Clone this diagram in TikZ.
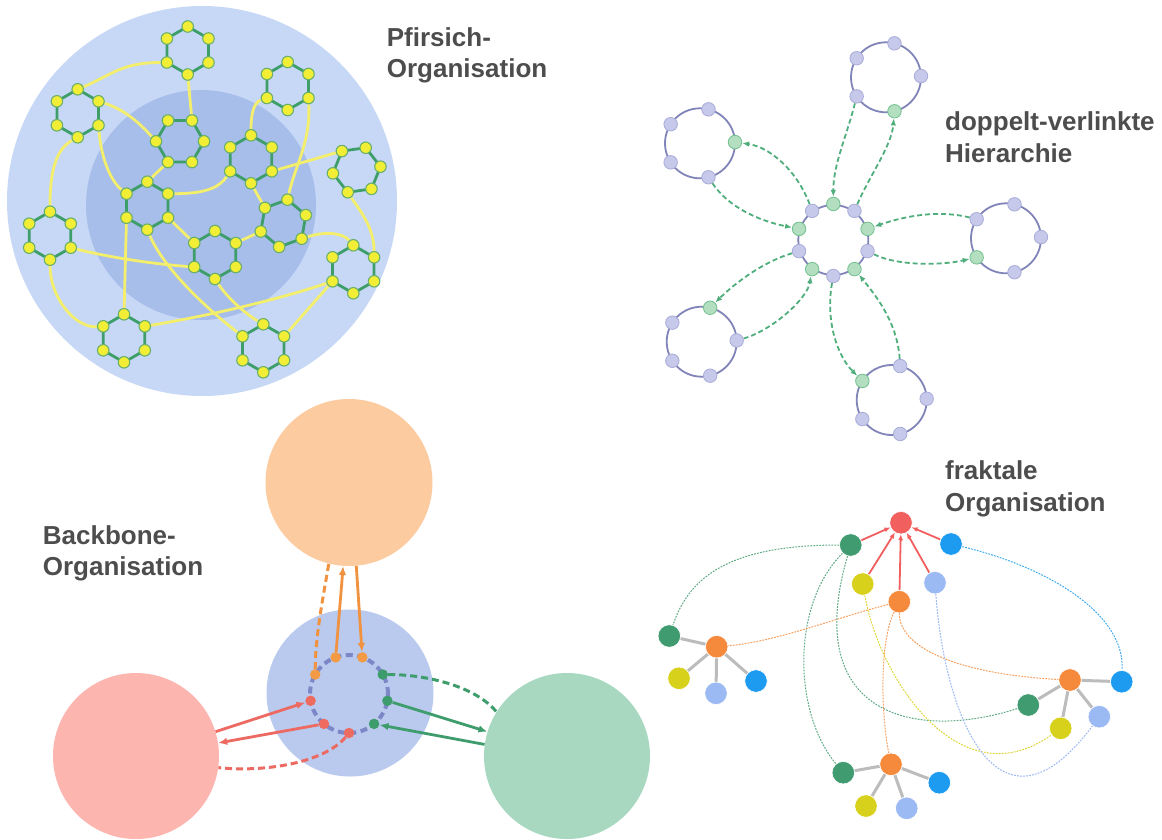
\documentclass[tikz,border=0pt]{standalone}
\usepackage{fontspec}
\setmainfont{Liberation Sans}
\usetikzlibrary{arrows.meta,calc}
\pgfdeclarelayer{bg}\pgfdeclarelayer{lines}\pgfsetlayers{bg,lines,main}
\definecolor{pfOuter}{HTML}{C7D8F6}
\definecolor{pfInner}{HTML}{A7BDEA}
\definecolor{hexG}{HTML}{3D9E6A}
\definecolor{dotY}{HTML}{F2EE35}
\definecolor{dotYB}{HTML}{6AB06A}
\definecolor{ylLine}{HTML}{F3EF6C}
\definecolor{ringc}{HTML}{8184B8}
\definecolor{pdotF}{HTML}{C6C9EA}
\definecolor{pdotD}{HTML}{A9ACD8}
\definecolor{gdotF}{HTML}{B3DFC0}
\definecolor{gdotD}{HTML}{72C08E}
\definecolor{harrc}{HTML}{4FAE7B}
\definecolor{bbOrange}{HTML}{FDCBA0}
\definecolor{bbBlue}{HTML}{B9CAEE}
\definecolor{bbPink}{HTML}{FDB5B0}
\definecolor{bbGreen}{HTML}{A9D8C1}
\definecolor{aO}{HTML}{F0923F}
\definecolor{aR}{HTML}{EC6A62}
\definecolor{aG}{HTML}{3F9D6D}
\definecolor{ringbb}{HTML}{7C87C7}
\definecolor{dotO}{HTML}{F39A45}
\definecolor{dotR}{HTML}{EE6B60}
\definecolor{dotG}{HTML}{3C9C6B}
\definecolor{fRed}{HTML}{F25F5F}
\definecolor{fGreen}{HTML}{419B70}
\definecolor{fBlue}{HTML}{1C9BF0}
\definecolor{fYel}{HTML}{D8D11B}
\definecolor{fLb}{HTML}{9BB9F3}
\definecolor{fOr}{HTML}{F68A3C}
\definecolor{fGray}{HTML}{BCBCBC}
\definecolor{txt}{HTML}{4D4D4D}
\newcommand{\hexa}[4]{%
  \foreach \k in {0,...,5}{%
    \pgfmathsetmacro{\ang}{90+#4-60*\k}%
    \node[ydot] (#1-\k) at ({#2+24*cos(\ang)},{#3-24*sin(\ang)}) {};%
  }%
  \begin{pgfonlayer}{lines}%
    \draw[hexedge] (#1-0.center)--(#1-1.center)--(#1-2.center)--(#1-3.center)--(#1-4.center)--(#1-5.center)--cycle;%
  \end{pgfonlayer}%
}
\newcommand{\hring}[4]{%
  \node[hringst] (#1) at (#2,#3) {};%
  \foreach \a [count=\i from 0] in {147,76,2,-76,-147}{%
    \ifnum\i=#4\relax
      \node[gdot] (#1-\i) at ({#2+35*cos(\a)},{#3-35*sin(\a)}) {};%
    \else
      \node[pdot] (#1-\i) at ({#2+35*cos(\a)},{#3-35*sin(\a)}) {};%
    \fi
  }%
}
\begin{document}
\begin{tikzpicture}[x=1pt,y=-1pt,
  lbl/.style={anchor=base west, inner sep=0pt, text=txt, font=\bfseries\fontsize{26}{31}\selectfont},
  disc/.style={circle, inner sep=0pt, draw=none},
  ydot/.style={circle, inner sep=0pt, minimum size=11.5pt, fill=dotY, draw=dotYB, line width=1.1pt},
  hexedge/.style={draw=hexG, line width=2.8pt, line join=round},
  yl/.style={draw=ylLine, line width=2.8pt},
  hringst/.style={circle, inner sep=0pt, minimum size=70pt, draw=ringc, line width=1.8pt},
  pdot/.style={circle, inner sep=0pt, minimum size=13.5pt, fill=pdotF, draw=pdotD, line width=0.8pt},
  gdot/.style={circle, inner sep=0pt, minimum size=13.5pt, fill=gdotF, draw=gdotD, line width=0.8pt},
  harr/.style={draw=harrc, line width=1.8pt, dash pattern=on 5pt off 3pt, -{Latex[length=7pt,width=5.5pt]}},
  bdot/.style={circle, inner sep=0pt, minimum size=10.5pt, draw=none},
  barr/.style={line width=2.8pt, -{Latex[length=9pt,width=7.5pt]}},
  bdash/.style={line width=3pt, dash pattern=on 7pt off 4pt},
  fnode/.style={circle, inner sep=0pt, minimum size=22.5pt, draw=white, line width=0.6pt},
  fedge/.style={draw=fGray, line width=3pt},
  fdash/.style={line width=1pt, dash pattern=on 1.8pt off 1.2pt},
  farr/.style={draw=fRed, line width=1.8pt, -{Latex[length=6pt,width=5pt]}}
]
\useasboundingbox (0,0) rectangle (1162,839);
\begin{pgfonlayer}{bg}
  \fill[white] (0,0) rectangle (1162,839);
  % Pfirsich circles
  \node[disc, fill=pfOuter, minimum size=390pt] (pfo) at (202,201) {};
  \node[disc, fill=pfInner, minimum size=230pt] (pfi) at (201,205) {};
  % Backbone circles
  \node[disc, fill=bbOrange, minimum size=167pt] (bbo) at (349,482.5) {};
  \node[disc, fill=bbBlue, minimum size=167pt] (bbb) at (350,693) {};
  \node[disc, fill=bbPink, minimum size=166pt] (bpk) at (136,756) {};
  \node[disc, fill=bbGreen, minimum size=166pt] (bgc) at (567,756) {};
\end{pgfonlayer}

% ---------------- Pfirsich-Organisation ----------------
\hexa{H1}{187.7}{50.5}{0}
\hexa{H2}{77.7}{113.3}{0}
\hexa{H3}{287.7}{86}{0}
\hexa{H4}{180}{141.3}{30}
\hexa{H5}{251}{159.3}{0}
\hexa{H6}{356.7}{170}{-22}
\hexa{H7}{147.3}{205.7}{0}
\hexa{H8}{50}{235.7}{0}
\hexa{H9}{283.3}{223.3}{-10}
\hexa{H10}{215}{255}{0}
\hexa{H11}{353.3}{269.3}{0}
\hexa{H12}{124}{338.3}{0}
\hexa{H13}{263.3}{348.3}{0}
\begin{pgfonlayer}{lines}
  \draw[yl] (H1-4) .. controls +(-45,0) and +(35,-15) .. (H2-0);
  \draw[yl] (H1-3) -- (H4-1);
  \draw[yl] (H2-1) .. controls +(25,8) and +(-18,-20) .. (H4-5);
  \draw[yl] (H2-2) .. controls +(3,35) and +(-15,-12) .. (H7-5);
  \draw[yl] (H2-3) .. controls +(-22,12) and +(0,-40) .. (H8-0);
  \draw[yl] (H4-4) -- (H7-0);
  \draw[yl] (H3-4) .. controls +(-15,5) and +(0,-15) .. (H5-0);
  \draw[yl] (H3-2) .. controls +(2,45) and +(8,-35) .. (H9-0);
  \draw[yl] (H5-2) -- (H6-5);
  \draw[yl] (H5-4) .. controls +(-10,15) and +(40,0) .. (H7-1);
  \draw[yl] (H5-3) -- (H9-5);
  \draw[yl] (H9-4) -- (H10-1);
  \draw[yl] (H9-2) .. controls +(25,-8) and +(-10,-12) .. (H11-0);
  \draw[yl] (H6-3) .. controls +(12,18) and +(0,-30) .. (H11-1);
  \draw[yl] (H7-2) -- (H10-5);
  \draw[yl] (H7-4) -- (H12-0);
  \draw[yl] (H7-3) .. controls +(15,35) and +(-45,-35) .. (H13-5);
  \draw[yl] (H8-2) .. controls +(40,10) and +(-40,-3) .. (H10-4);
  \draw[yl] (H8-3) .. controls +(0,38) and +(-28,2) .. (H12-5);
  \draw[yl] (H10-3) .. controls +(12,18) and +(-20,-12) .. (H13-0);
  \draw[yl] (H11-4) .. controls +(-60,20) and +(60,-10) .. (H12-1);
  \draw[yl] (H11-4) -- (H13-1);
\end{pgfonlayer}
\node[lbl] (pfA) at (386.7,46) {Pfirsich-};
\node[lbl] (pfB) at (386.7,77) {Organisation};

% ---------------- doppelt-verlinkte Hierarchie ----------------
\node[hringst] (hc) at (833.3,240) {};
\foreach \k in {0,...,9}{%
  \pgfmathsetmacro{\ang}{90-36*\k}%
  \ifodd\k
    \node[pdot] (hc-\k) at ({833.3+36*cos(\ang)},{240-36*sin(\ang)}) {};%
  \else
    \node[gdot] (hc-\k) at ({833.3+36*cos(\ang)},{240-36*sin(\ang)}) {};%
  \fi
}
\hring{hT}{886}{77.3}{3}
\hring{hUL}{700}{143.3}{2}
\hring{hR}{1006}{238.3}{4}
\hring{hBL}{701.7}{341.7}{1}
\hring{hB}{891.7}{400}{0}
\begin{pgfonlayer}{lines}
  \draw[harr] (hT-4) .. controls +(-10,40) and +(0,-40) .. (hc-0);
  \draw[harr] (hc-1) .. controls +(15,-35) and +(-3,35) .. (hT-3);
  \draw[harr] (hUL-3) .. controls +(20,30) and +(-40,-8) .. (hc-8);
  \draw[harr] (hc-9) .. controls +(-15,-40) and +(35,5) .. (hUL-2);
  \draw[harr] (hR-0) .. controls +(-40,-10) and +(35,-12) .. (hc-2);
  \draw[harr] (hc-3) .. controls +(30,15) and +(-35,8) .. (hR-4);
  \draw[harr] (hc-7) .. controls +(-40,12) and +(20,-20) .. (hBL-1);
  \draw[harr] (hBL-2) .. controls +(35,-10) and +(-5,30) .. (hc-6);
  \draw[harr] (hc-5) .. controls +(-8,45) and +(-25,-25) .. (hB-0);
  \draw[harr] (hB-1) .. controls +(-3,-45) and +(20,25) .. (hc-4);
\end{pgfonlayer}
\node[lbl] (hA) at (945,130) {doppelt-verlinkte};
\node[lbl] (hB2) at (945,162) {Hierarchie};

% ---------------- Backbone-Organisation ----------------
\foreach \nm/\a/\c in {bo1/110/dotO, bo2/70/dotO, bo3/150/dotO, br1/190/dotR, br2/230/dotR, br3/270/dotR, bg3/310/dotG, bg2/350/dotG, bg1/30/dotG}{%
  \node[bdot, fill=\c] (\nm) at ({349+39*cos(\a)},{694-39*sin(\a)}) {};%
}
\begin{pgfonlayer}{lines}
  \node[circle, inner sep=0pt, minimum size=78pt, draw=ringbb, line width=4pt, dash pattern=on 7pt off 4.5pt] (bring) at (349,694) {};
  \draw[barr, aO] (bo1) -- (bbo.-94);
  \draw[barr, aO] (bbo.-85) -- (bo2);
  \draw[bdash, aO] (bo3) .. controls +(0,-40) and +(-4,25) .. (bbo.-104);
  \draw[barr, aR] (bpk.17) -- (br1);
  \draw[barr, aR] (br2) -- (bpk.9);
  \draw[bdash, aR] (br3) .. controls +(-25,30) and +(45,5) .. (bpk.-8);
  \draw[barr, aG] (bg2) -- (bgc.163);
  \draw[barr, aG] (bgc.172) -- (bg3);
  \draw[bdash, aG] (bg1) .. controls +(45,0) and +(-20,-25) .. (bgc.148);
\end{pgfonlayer}
\node[lbl] (bA) at (42.7,544) {Backbone-};
\node[lbl] (bB) at (42.7,575) {Organisation};

% ---------------- fraktale Organisation ----------------
\node[fnode, fill=fRed] (fR0) at (901,522.7) {};
\node[fnode, fill=fGreen] (fG0) at (850.7,545) {};
\node[fnode, fill=fBlue] (fB0) at (951,544) {};
\node[fnode, fill=fYel] (fY0) at (862.7,584) {};
\node[fnode, fill=fOr] (fO0) at (899.3,601.7) {};
\node[fnode, fill=fLb] (fL0) at (935,582.7) {};
\node[fnode, fill=fGreen] (fGL) at (669.3,636) {};
\node[fnode, fill=fOr] (fOL) at (716.7,646.7) {};
\node[fnode, fill=fYel] (fYL) at (679,678.3) {};
\node[fnode, fill=fLb] (fLL) at (716,693.3) {};
\node[fnode, fill=fBlue] (fBL) at (756,681) {};
\node[fnode, fill=fOr] (fOR) at (1070,680) {};
\node[fnode, fill=fBlue] (fBR) at (1121.7,681.7) {};
\node[fnode, fill=fGreen] (fGR) at (1028.3,705) {};
\node[fnode, fill=fYel] (fYR) at (1060.7,728.3) {};
\node[fnode, fill=fLb] (fLR) at (1099.3,716.7) {};
\node[fnode, fill=fOr] (fOB) at (891,764.3) {};
\node[fnode, fill=fGreen] (fGB) at (843.3,772.7) {};
\node[fnode, fill=fBlue] (fBB) at (939.3,782.7) {};
\node[fnode, fill=fYel] (fYB) at (866,806) {};
\node[fnode, fill=fLb] (fLB) at (906.7,808.3) {};
\begin{pgfonlayer}{lines}
  \foreach \o/\t in {fOL/fGL, fOL/fYL, fOL/fLL, fOL/fBL, fOR/fBR, fOR/fGR, fOR/fYR, fOR/fLR, fOB/fGB, fOB/fBB, fOB/fYB, fOB/fLB}{%
    \draw[fedge] (\o) -- (\t);%
  }
  \draw[fdash, fGreen!85] (fG0) .. controls +(-120,0) and +(20,-60) .. (fGL);
  \draw[fdash, fGreen!85] (fG0) .. controls +(-60,60) and +(-50,-60) .. (fGB);
  \draw[fdash, fGreen!85] (fG0) .. controls (800,720) and (920,740) .. (fGR);
  \draw[fdash, fOr!85] (fO0) .. controls +(-60,15) and +(60,-5) .. (fOL);
  \draw[fdash, fOr!85] (fO0) .. controls +(-20,40) and +(-10,-50) .. (fOB);
  \draw[fdash, fOr!85] (fO0) .. controls +(0,50) and +(-100,-5) .. (fOR);
  \draw[fdash, fYel!90] (fY0) .. controls (880,680) and (960,800) .. (fYR);
  \draw[fdash, fLb] (fL0) .. controls (945,720) and (1000,850) .. (fLR);
  \draw[fdash, fBlue!85] (fB0) .. controls (1040,565) and (1125,610) .. (fBR);
  \foreach \s in {fG0, fY0, fO0, fL0, fB0}{%
    \draw[farr] (\s) -- (fR0);%
  }
\end{pgfonlayer}
\node[lbl] (fA) at (945,479) {fraktale};
\node[lbl] (fB) at (945,511.5) {Organisation};
\end{tikzpicture}
\end{document}
